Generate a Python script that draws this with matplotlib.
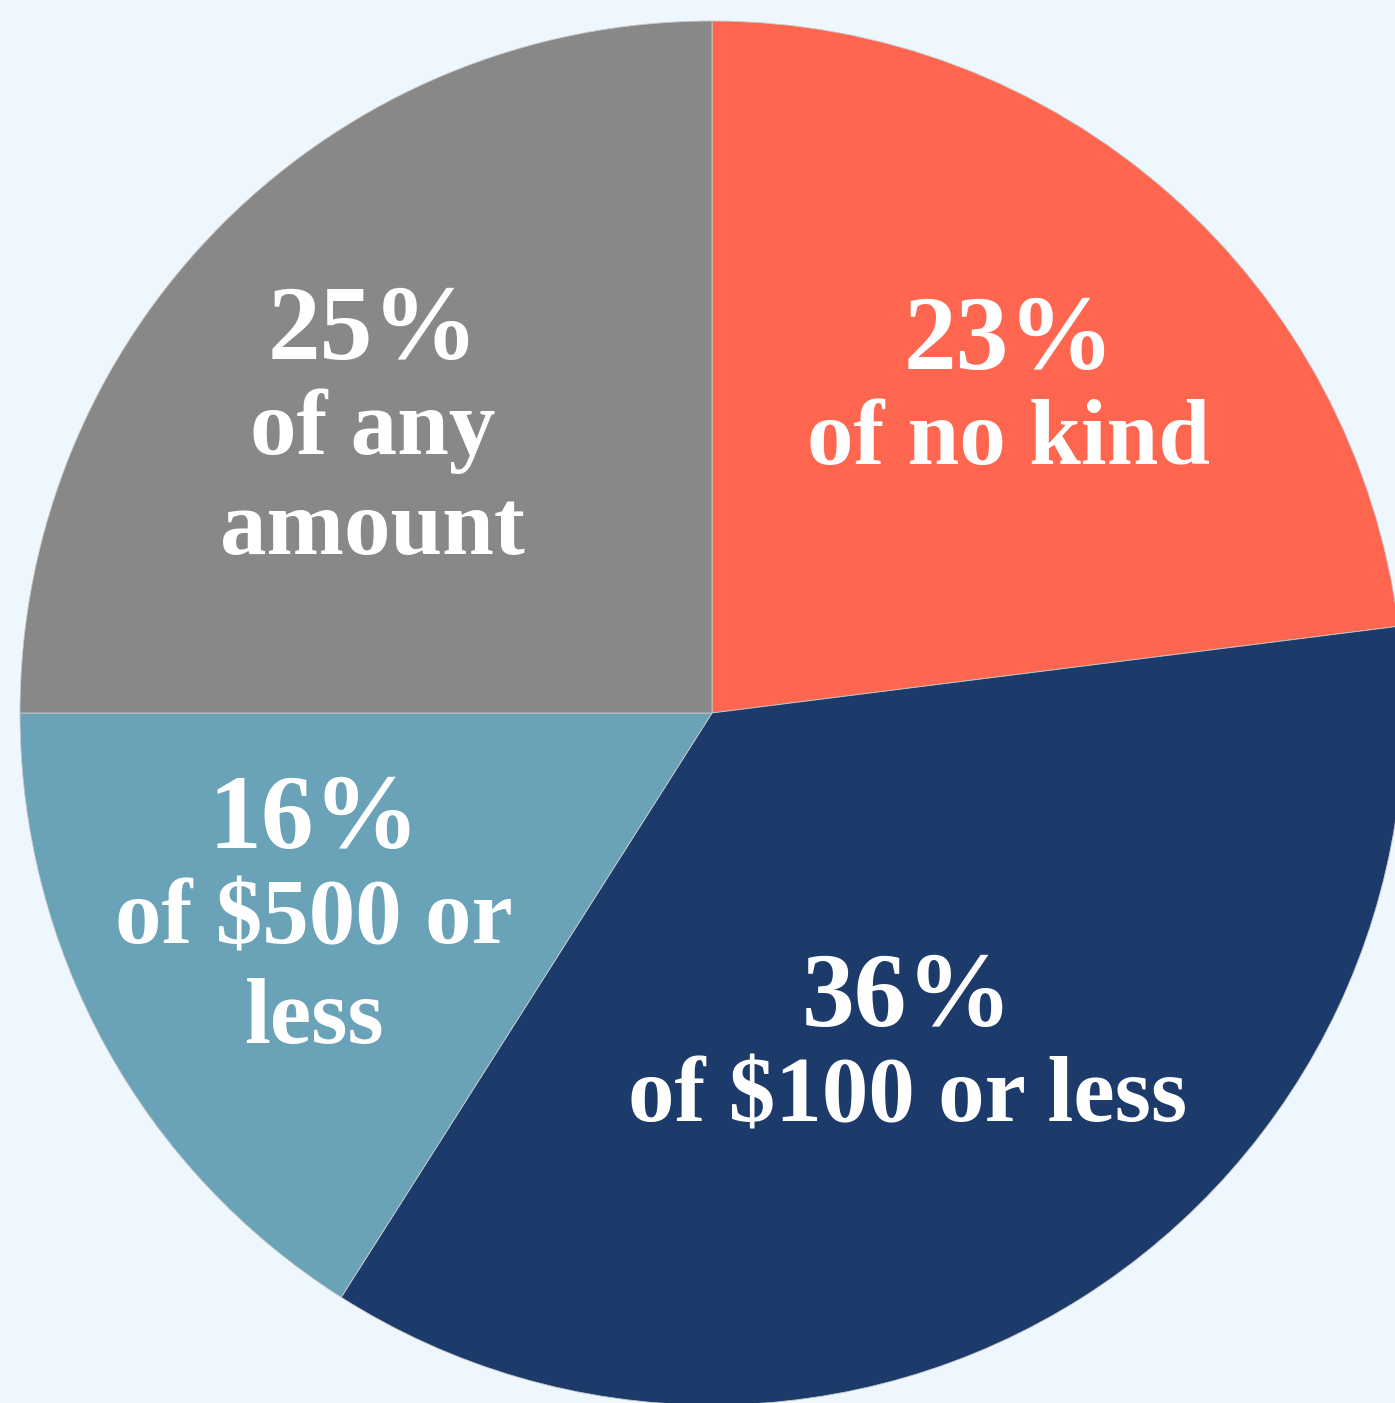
import numpy as np
import matplotlib.pyplot as plt


# ===============================
# Data
# ===============================

shares = [23, 36, 16, 25]
pct_labels = ["23%", "36%", "16%", "25%"]
desc_labels = ["of no kind", "of $100 or less", "of $500 or\nless", "of any\namount"]
colors = ["#FF6650", "#1C3B6B", "#6AA2B8", "#888888"]

# label placement: (fraction of radius, angle tweak in degrees)
label_pos = [(0.63, -1.5), (0.564, -2.4), (0.65, -1.0), (0.635, 5.5)]


# ===============================
# Figure (1 data unit = 1 pixel)
# ===============================

W, H = 1395, 1403
CX, CY = 712, 713
R = 692

fig = plt.figure(figsize=(W / 100, H / 100), dpi=100)
fig.patch.set_facecolor("#EEF6FE")
ax = fig.add_axes([0, 0, 1, 1])
ax.set_facecolor("#EEF6FE")

ax.pie(shares, colors=colors, startangle=90, counterclock=False,
       radius=R, center=(0, 0),
       wedgeprops=dict(edgecolor="#c8c8c8", linewidth=0.6))

ax.set_xlim(-CX, W - CX)
ax.set_ylim(-(H - CY), CY)
ax.set_aspect("equal")
ax.axis("off")

font = ["Liberation Serif", "DejaVu Serif"]

# ===============================
# Labels
# ===============================

cum = np.cumsum([0] + shares)
for i in range(len(shares)):
    mid = 90 - 3.6 * (cum[i] + shares[i] / 2)
    frac, tweak = label_pos[i]
    a = np.deg2rad(mid + tweak)
    x, y = frac * R * np.cos(a), frac * R * np.sin(a)
    lines = desc_labels[i].split("\n")
    n = len(lines) + 1
    top = y + (n - 1) * 50
    ax.text(x, top, pct_labels[i], ha="center", va="center",
            color="white", fontsize=76, fontweight="bold", family=font)
    for j, line in enumerate(lines):
        ax.text(x, top - 100 * (j + 1) + 2, line, ha="center", va="center",
                color="white", fontsize=67, fontweight="bold", family=font)

fig.savefig("out.png", dpi=100, facecolor=fig.get_facecolor())
